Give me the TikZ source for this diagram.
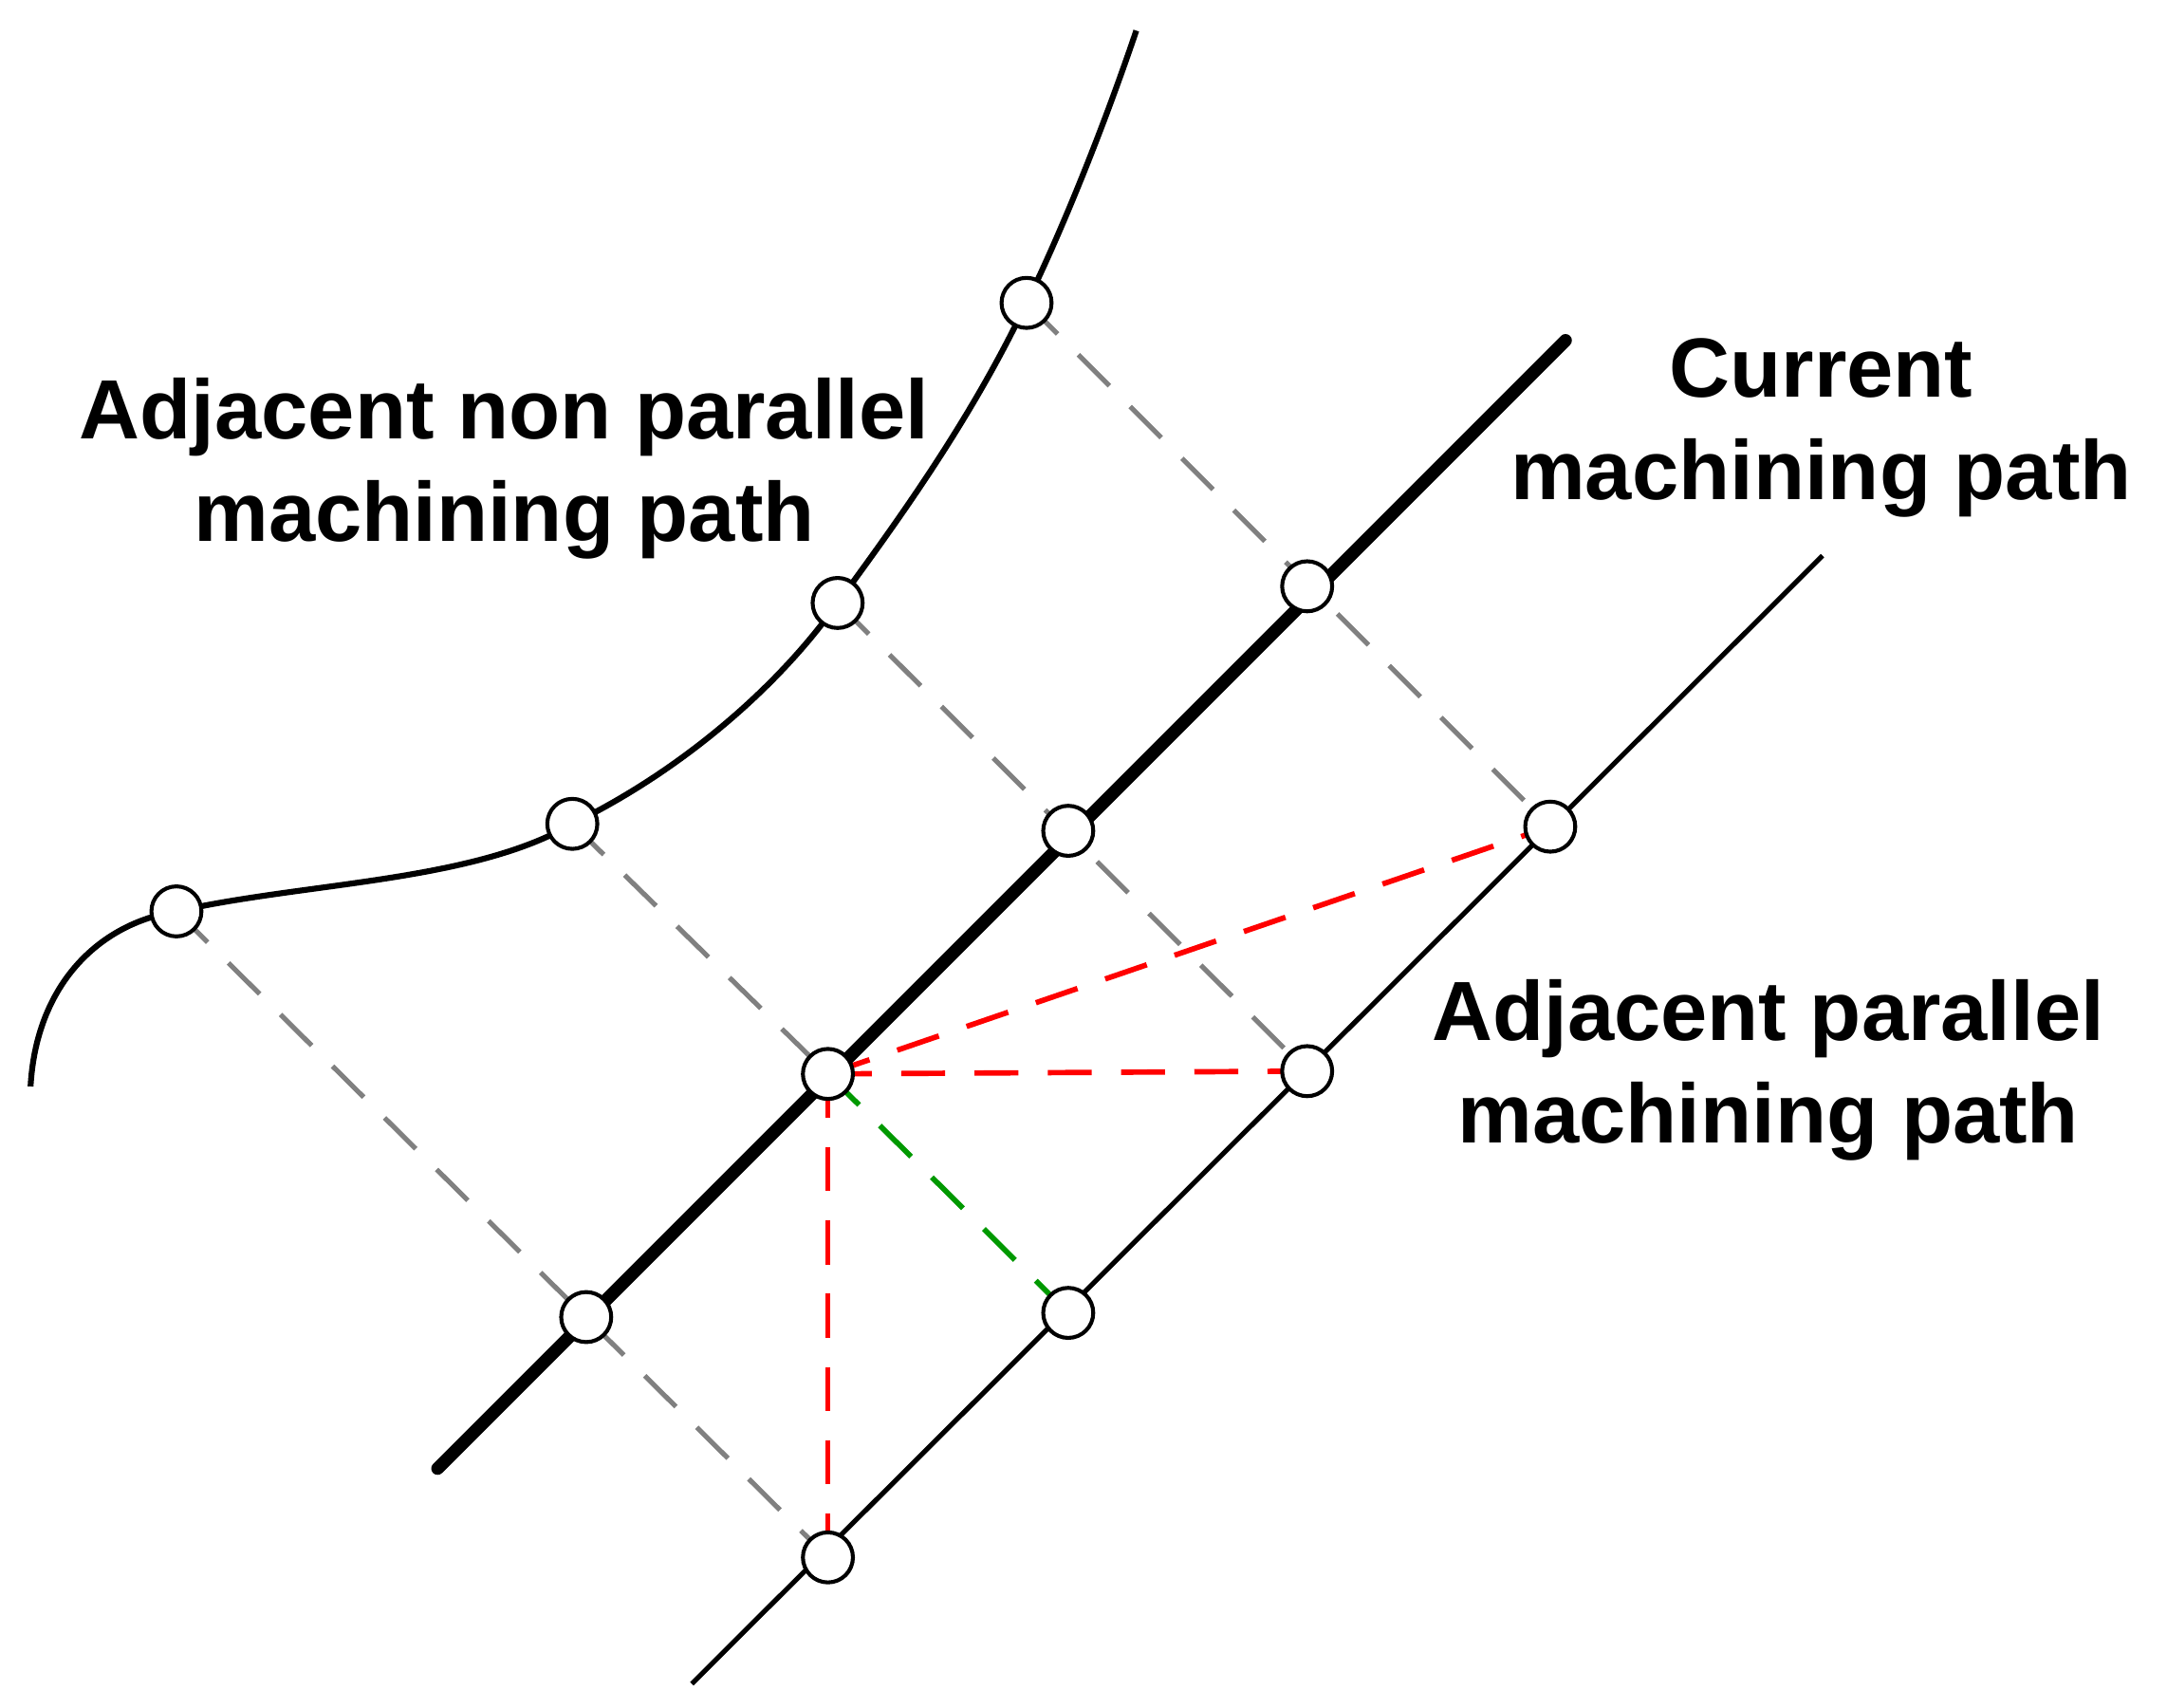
\documentclass[tikz,border=0pt]{standalone}
\usepackage{fontspec}
\setmainfont{Liberation Sans}
\begin{document}
\begin{tikzpicture}[x=0.01cm,y=-0.01cm,
  pt/.style={circle,draw,fill=white,line width=0.8pt,minimum size=0.36cm,inner sep=0pt},
  thin/.style={line width=1pt},
  thick2/.style={line width=2.6pt,line cap=round},
  gd/.style={dash pattern=on 9pt off 6pt,line width=1pt,gray},
  rd/.style={dash pattern=on 9pt off 6pt,line width=1.1pt,red},
  gr/.style={dash pattern=on 9pt off 6pt,line width=1.1pt,green!60!black},
  lab/.style={font=\bfseries\fontsize{17.2}{21}\selectfont,align=center}]
\useasboundingbox (0,0) rectangle (1560,1229);
\coordinate (c0) at (315,1057); \coordinate (c1) at (1127,245);
\coordinate (p0) at (498,1212); \coordinate (p1) at (1312,400);
\draw[thick2] (c0) -- (c1);
\draw[thin] (p0) -- (p1);
\draw[line width=1.2pt] (22,782) .. controls (26,710) and (70,665) .. (127,656)
  .. controls (220,635) and (340,635) .. (412,593)
  .. controls (490,555) and (560,495) .. (603,434)
  .. controls (650,370) and (700,300) .. (739,218)
  .. controls (765,165) and (795,90) .. (818,22);
\coordinate (n1) at (127,656); \coordinate (n2) at (412,593);
\coordinate (n3) at (603,434); \coordinate (n4) at (739,218);
\coordinate (a1) at (422,948); \coordinate (a2) at (596,773);
\coordinate (a3) at (769,598); \coordinate (a4) at (941,422);
\coordinate (b1) at (596,1121); \coordinate (b2) at (769,945);
\coordinate (b3) at (941,771); \coordinate (b4) at (1116,595);
\draw[gd] (n1) -- (b1); \draw[gd] (n2) -- (a2);
\draw[gd] (n3) -- (b3); \draw[gd] (n4) -- (b4);
\draw[gr] (a2) -- (b2);
\draw[rd] (a2) -- (b4); \draw[rd] (a2) -- (b3); \draw[rd] (a2) -- (b1);
\foreach \n in {n1,n2,n3,n4,a1,a2,a3,a4,b1,b2,b3,b4} \node[pt] (N\n) at (\n) {};
\node[lab] (t1) at (363,337) {Adjacent non parallel\\machining path};
\node[lab] (t2) at (1311,308) {Current\\machining path};
\node[lab] (t3) at (1273,770) {Adjacent parallel\\machining path};
\end{tikzpicture}
\end{document}
